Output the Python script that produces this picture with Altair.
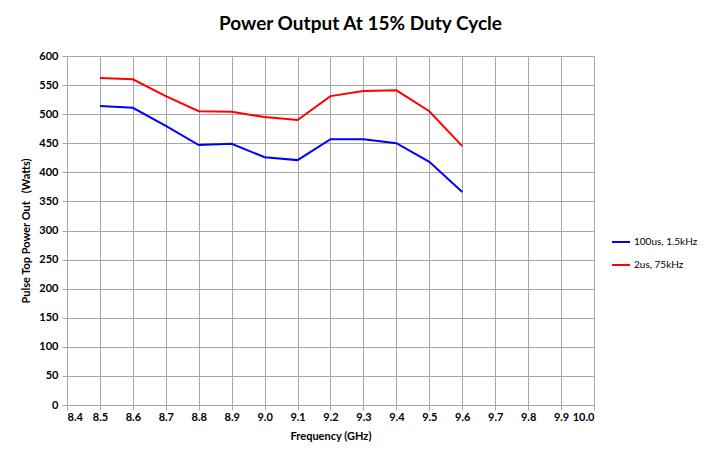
import altair as alt
import pandas as pd

freq = [8.5, 8.6, 8.7, 8.8, 8.9, 9.0, 9.1, 9.2, 9.3, 9.4, 9.5, 9.6]
s1_name = "100us, 1.5kHz"
s2_name = "2us, 75kHz"
s1 = [514, 511, 480, 447, 449, 426, 421, 457, 457, 450, 418, 366]
s2 = [562, 560, 531, 505, 504, 495, 490, 531, 540, 541, 505, 445]
x_ticks = [8.4, 8.5, 8.6, 8.7, 8.8, 8.9, 9.0, 9.1, 9.2, 9.3, 9.4, 9.5, 9.6, 9.7, 9.8, 9.9, 10.0]
y_ticks = list(range(0, 601, 50))

df = pd.DataFrame({
    "freq": freq * 2,
    "power": s1 + s2,
    "series": [s1_name] * len(freq) + [s2_name] * len(freq),
})

FONT = "Lato"

chart = alt.Chart(df).mark_line(strokeWidth=2).encode(
    x=alt.X("freq:Q",
            scale=alt.Scale(domain=[8.4, 10.0], nice=False, zero=False),
            axis=alt.Axis(values=x_ticks, format=".1f", title="Frequency (GHz)",
                          labelFontWeight="bold", labelFontSize=11, labelColor="#000",
                          titleFontWeight="bold", titleFontSize=11, titleColor="#000",
                          labelFont=FONT, titleFont=FONT,
                          grid=True, gridColor="#a6a6a6", domainColor="#a6a6a6",
                          tickColor="#a6a6a6", tickSize=5, labelPadding=1, titlePadding=8)),
    y=alt.Y("power:Q",
            scale=alt.Scale(domain=[0, 600], nice=False),
            axis=alt.Axis(values=y_ticks, title="Pulse Top Power Out\u00a0\u00a0\u00a0(Watts)",
                          labelFontWeight="bold", labelFontSize=11, labelColor="#000",
                          titleFontWeight="bold", titleFontSize=11, titleColor="#000",
                          labelFont=FONT, titleFont=FONT,
                          grid=True, gridColor="#a6a6a6", domainColor="#a6a6a6",
                          tickColor="#a6a6a6", tickSize=5, labelPadding=4, titlePadding=7)),
    color=alt.Color("series:N",
                    scale=alt.Scale(domain=[s1_name, s2_name], range=["#0000ff", "#ff0000"]),
                    legend=alt.Legend(title=None, orient="none", legendX=544, legendY=176,
                                      symbolType="stroke", symbolStrokeWidth=2, symbolSize=324,
                                      labelFont=FONT, labelFontSize=10, labelColor="#000",
                                      labelOffset=3, rowPadding=8)),
).properties(
    width=527,
    height=349,
    autosize=alt.AutoSizeParams(type="none"),
    padding={"left": 59, "top": 48, "right": 107, "bottom": 38},
    title=alt.Title("Power Output At 15% Duty Cycle", fontSize=19, fontWeight="bold",
                    font=FONT, color="#000", anchor="middle", dx=30, offset=16),
).configure_view(stroke="#a6a6a6").configure(background="white")

chart.save("out.html", embed_options={"renderer": "svg", "actions": False})
